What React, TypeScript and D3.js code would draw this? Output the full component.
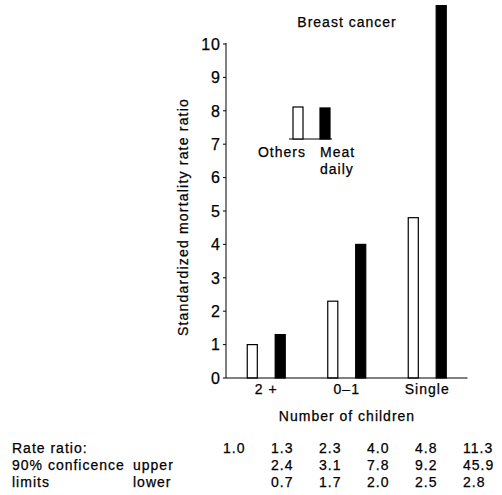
import React from "react";
import * as d3 from "d3";

const categories = ["2 +", "0\u20131", "Single"];
const seriesNames = ["Others", "Meat daily"];
const others = [1.0, 2.3, 4.8];
const meatDaily = [1.3, 4.0, 11.3];
const yTicks = [0, 1, 2, 3, 4, 5, 6, 7, 8, 9, 10];
const rateRatio = ["1.0", "1.3", "2.3", "4.0", "4.8", "11.3"];
const upperLimits = ["", "2.4", "3.1", "7.8", "9.2", "45.9"];
const lowerLimits = ["", "0.7", "1.7", "2.0", "2.5", "2.8"];

const W = 502;
const H = 495;
const FONT = "'Liberation Sans', Arial, Helvetica, sans-serif";
const LS = 1;

export default function App() {
  const x0 = d3.scaleBand<string>().domain(categories).range([226, 467.5]).padding(0);
  const x1 = d3.scaleBand<string>().domain(seriesNames).range([-19, 19]).paddingInner(0.64).paddingOuter(0);
  const y = d3.scaleLinear().domain([0, 10]).range([378, 44]);
  const colX = d3.scalePoint<number>().domain(d3.range(rateRatio.length)).range([223, 463]);

  const bars: { cx: number; v: number; s: string }[] = [];
  categories.forEach((c, i) => {
    const cx = (x0(c) as number) + x0.bandwidth() / 2;
    bars.push({ cx, v: others[i], s: seriesNames[0] });
    bars.push({ cx, v: meatDaily[i], s: seriesNames[1] });
  });

  const textStyle = {
    fontFamily: FONT,
    fontSize: 14,
    letterSpacing: LS,
    fill: "#000",
    stroke: "#000",
    strokeWidth: 0.25,
  } as any;

  const legY = d3.scaleLinear().domain([0, 1]).range([139, 107]);

  return (
    <svg width={W} height={H} style={{ position: "absolute", left: 0, top: 0, background: "#fff" }}>
      <defs>
        <clipPath id="plotclip">
          <rect x={0} y={5} width={W} height={H} />
        </clipPath>
      </defs>
      <rect x={0} y={0} width={W} height={H} fill="#fff" />
      <text x={347} y={27} textAnchor="middle" style={textStyle}>Breast cancer</text>

      <g clipPath="url(#plotclip)">
        {bars.map((b, i) => {
          const bx = b.cx + (x1(b.s) as number);
          const isMeat = b.s === seriesNames[1];
          return (
            <rect
              key={i}
              x={bx}
              y={y(b.v)}
              width={x1.bandwidth()}
              height={y(0) - y(b.v)}
              fill={isMeat ? "#000" : "#fff"}
              stroke="#000"
              strokeWidth={1.2}
            />
          );
        })}
      </g>

      <line x1={226} x2={226} y1={y(10) - 1} y2={y(0)} stroke="#000" strokeWidth={1} />
      {yTicks.map((t) => (
        <g key={t}>
          <line x1={223} x2={226} y1={y(t)} y2={y(t)} stroke="#000" strokeWidth={1} />
          <text x={221} y={y(t)} dy="0.36em" textAnchor="end" style={{ ...textStyle, fontSize: 16 }}>
            {t}
          </text>
        </g>
      ))}
      <line x1={226} x2={467.5} y1={y(0)} y2={y(0)} stroke="#000" strokeWidth={1} />

      <text
        transform={`translate(188,217) rotate(-90)`}
        textAnchor="middle"
        style={{ ...textStyle, letterSpacing: 1.2 }}
      >
        Standardized mortality rate ratio
      </text>

      {categories.map((c) => (
        <text key={c} x={(x0(c) as number) + x0.bandwidth() / 2} y={394} textAnchor="middle" style={textStyle}>
          {c}
        </text>
      ))}
      <text x={347} y={421} textAnchor="middle" style={textStyle}>Number of children</text>

      <line x1={289} x2={332} y1={legY(0)} y2={legY(0)} stroke="#000" strokeWidth={1} />
      <rect x={293} y={legY(1)} width={10} height={legY(0) - legY(1)} fill="#fff" stroke="#000" strokeWidth={1.2} />
      <rect x={320} y={legY(0.97)} width={10} height={legY(0) - legY(0.97)} fill="#000" stroke="#000" strokeWidth={1.2} />
      <text x={306} y={157} textAnchor="end" style={textStyle}>Others</text>
      <text x={320} y={157} style={textStyle}>Meat</text>
      <text x={320} y={174} style={textStyle}>daily</text>

      <text x={12} y={453} style={textStyle}>Rate ratio:</text>
      <text x={12} y={470} style={textStyle}>90% conficence</text>
      <text x={12} y={487} style={textStyle}>limits</text>
      <text x={133} y={470} style={textStyle}>upper</text>
      <text x={133} y={487} style={textStyle}>lower</text>
      {rateRatio.map((v, i) => (
        <text key={"r" + i} x={colX(i)} y={453} style={textStyle}>{v}</text>
      ))}
      {upperLimits.map((v, i) => (
        <text key={"u" + i} x={colX(i)} y={470} style={textStyle}>{v}</text>
      ))}
      {lowerLimits.map((v, i) => (
        <text key={"l" + i} x={colX(i)} y={487} style={textStyle}>{v}</text>
      ))}
    </svg>
  );
}
